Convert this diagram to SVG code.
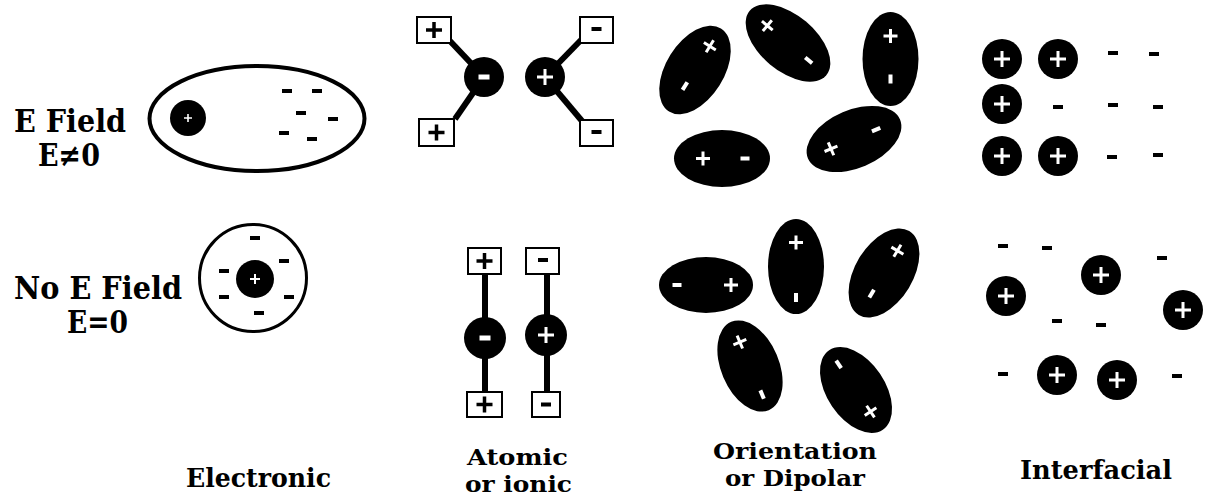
<svg xmlns="http://www.w3.org/2000/svg" xmlns:xlink="http://www.w3.org/1999/xlink" width="1205" height="496" viewBox="0 0 1205 496">
  <style>
    .lbl { font-family: "DejaVu Serif", "Liberation Serif", serif; font-weight: bold; fill: #000; text-anchor: middle; }
    .side { font-size: 31px; }
    .cap { font-size: 26px; }
    .cap2 { font-size: 23px; }
    .shell { fill: none; stroke: #000; }
    .box { fill: #fff; stroke: #000; stroke-width: 2; }
    .bond { stroke: #000; stroke-width: 6; }
  </style>
  <defs>
    <!-- white charge marks on black bodies -->
    <path id="wplus" d="M-7 0H7M0 -7V7" stroke="#fff" stroke-width="3" fill="none"/>
    <path id="wplus-big" d="M-8 0H8M0 -8V8" stroke="#fff" stroke-width="3" fill="none"/>
    <rect id="wminus" x="-4.5" y="-2" width="9" height="4" fill="#fff"/>
    <rect id="wminus-big" x="-5.5" y="-2.5" width="11" height="5" fill="#fff"/>
    <!-- black charge marks on white -->
    <rect id="dash" x="-5" y="-2" width="10" height="4" fill="#000"/>
    <path id="bplus" d="M-8 0H8M0 -8V8" stroke="#000" stroke-width="3.5" fill="none"/>
    <!-- free positive charge -->
    <g id="cation">
      <circle r="20" fill="#000"/>
      <use xlink:href="#wplus-big"/>
    </g>
  </defs>

  <!-- row labels -->
  <g id="label-field">
    <text class="lbl side" x="70" y="132" textLength="112" lengthAdjust="spacingAndGlyphs">E Field</text>
    <text class="lbl side" x="69" y="166" textLength="62" lengthAdjust="spacingAndGlyphs">E≠0</text>
  </g>
  <g id="label-nofield">
    <text class="lbl side" x="98" y="299" textLength="168" lengthAdjust="spacingAndGlyphs">No E Field</text>
    <text class="lbl side" x="97.5" y="333" textLength="61" lengthAdjust="spacingAndGlyphs">E=0</text>
  </g>

  <!-- electronic polarization -->
  <g id="electronic-field">
    <ellipse class="shell" cx="257" cy="118.5" rx="107.5" ry="52.5" stroke-width="4"/>
    <circle cx="188" cy="118" r="18" fill="#000"/>
    <path d="M184 118h8M188 114v8" stroke="#fff" stroke-width="1.6"/>
    <use xlink:href="#dash" x="287" y="91"/>
    <use xlink:href="#dash" x="317" y="91"/>
    <use xlink:href="#dash" x="301" y="113"/>
    <use xlink:href="#dash" x="333" y="119"/>
    <use xlink:href="#dash" x="284" y="133"/>
    <use xlink:href="#dash" x="312" y="139"/>
  </g>
  <g id="electronic-nofield">
    <circle class="shell" cx="253" cy="278" r="53.5" stroke-width="3"/>
    <circle cx="255" cy="279" r="19" fill="#000"/>
    <path d="M250 279h10M255 274v10" stroke="#fff" stroke-width="2"/>
    <use xlink:href="#dash" x="255" y="238"/>
    <use xlink:href="#dash" x="284" y="261"/>
    <use xlink:href="#dash" x="224" y="271"/>
    <use xlink:href="#dash" x="224" y="297"/>
    <use xlink:href="#dash" x="289" y="297"/>
    <use xlink:href="#dash" x="259" y="313"/>
  </g>

  <!-- atomic / ionic polarization -->
  <g id="atomic-field">
    <line class="bond" x1="450" y1="41" x2="484" y2="77"/>
    <line class="bond" x1="484" y1="77" x2="455" y2="119"/>
    <line class="bond" x1="545" y1="77" x2="582" y2="39"/>
    <line class="bond" x1="545" y1="77" x2="582" y2="121"/>
    <rect class="box" x="417" y="17" width="34" height="26"/>
    <use xlink:href="#bplus" x="434" y="30"/>
    <rect class="box" x="419" y="119" width="35" height="27"/>
    <use xlink:href="#bplus" x="436.5" y="132.5"/>
    <rect class="box" x="580" y="17" width="33" height="26"/>
    <use xlink:href="#dash" x="596.5" y="29"/>
    <rect class="box" x="580" y="120" width="33" height="26"/>
    <use xlink:href="#dash" x="596.5" y="132"/>
    <circle cx="484" cy="77" r="20" fill="#000"/>
    <use xlink:href="#wminus-big" x="484" y="77"/>
    <circle cx="545" cy="77" r="20" fill="#000"/>
    <use xlink:href="#wplus-big" x="545" y="77"/>
  </g>
  <g id="atomic-nofield">
    <line class="bond" x1="485" y1="270" x2="485" y2="395" stroke-width="6.5"/>
    <line class="bond" x1="547" y1="270" x2="547" y2="395" stroke-width="6.5"/>
    <rect class="box" x="468" y="248" width="33" height="26"/>
    <use xlink:href="#bplus" x="484.5" y="261"/>
    <rect class="box" x="526" y="248" width="33" height="26"/>
    <use xlink:href="#dash" x="543" y="260"/>
    <rect class="box" x="467" y="392" width="35" height="25"/>
    <use xlink:href="#bplus" x="484.5" y="404.5"/>
    <rect class="box" x="532" y="392" width="28" height="25"/>
    <use xlink:href="#dash" x="546" y="404.5"/>
    <circle cx="485" cy="338" r="21" fill="#000"/>
    <use xlink:href="#wminus-big" x="485" y="338"/>
    <circle cx="546" cy="335" r="21" fill="#000"/>
    <use xlink:href="#wplus-big" x="546" y="335"/>
  </g>

  <!-- orientation / dipolar polarization: each dipole drawn along its own axis -->
  <g id="orientation-field">
    <g transform="translate(695 70) rotate(-58)">
      <ellipse rx="49" ry="29" fill="#000"/>
      <use xlink:href="#wplus" x="28"/>
      <use xlink:href="#wminus" x="-19"/>
    </g>
    <g transform="translate(788 43) rotate(-140)">
      <ellipse rx="50" ry="28" fill="#000"/>
      <use xlink:href="#wplus" x="27"/>
      <use xlink:href="#wminus" x="-27"/>
    </g>
    <g transform="translate(890.5 59) rotate(-90)">
      <ellipse rx="47" ry="28" fill="#000"/>
      <use xlink:href="#wplus" x="23"/>
      <use xlink:href="#wminus" x="-20"/>
    </g>
    <g transform="translate(722 158.5) rotate(180)">
      <ellipse rx="48" ry="28.5" fill="#000"/>
      <use xlink:href="#wplus" x="19"/>
      <use xlink:href="#wminus" x="-23"/>
    </g>
    <g transform="translate(854 139) rotate(157)">
      <ellipse rx="50" ry="29" fill="#000"/>
      <use xlink:href="#wplus" x="25"/>
      <use xlink:href="#wminus" x="-24"/>
    </g>
  </g>
  <g id="orientation-nofield">
    <g transform="translate(706 285)">
      <ellipse rx="47" ry="28" fill="#000"/>
      <use xlink:href="#wplus" x="25"/>
      <use xlink:href="#wminus" x="-29"/>
    </g>
    <g transform="translate(796 266.5) rotate(-90)">
      <ellipse rx="47.5" ry="28" fill="#000"/>
      <use xlink:href="#wplus" x="24"/>
      <use xlink:href="#wminus" x="-31"/>
    </g>
    <g transform="translate(884 273) rotate(-59)">
      <ellipse rx="49" ry="29" fill="#000"/>
      <use xlink:href="#wplus" x="26"/>
      <use xlink:href="#wminus" x="-24"/>
    </g>
    <g transform="translate(750 366) rotate(-113)">
      <ellipse rx="48" ry="29" fill="#000"/>
      <use xlink:href="#wplus" x="26"/>
      <use xlink:href="#wminus" x="-31"/>
    </g>
    <g transform="translate(856 390) rotate(56)">
      <ellipse rx="48" ry="29" fill="#000"/>
      <use xlink:href="#wplus" x="26"/>
      <use xlink:href="#wminus" x="-31"/>
    </g>
  </g>

  <!-- interfacial polarization -->
  <g id="interfacial-field">
    <use xlink:href="#cation" x="1002" y="59"/>
    <use xlink:href="#cation" x="1058" y="59"/>
    <use xlink:href="#cation" x="1002" y="104"/>
    <use xlink:href="#cation" x="1002" y="156"/>
    <use xlink:href="#cation" x="1058" y="156"/>
    <use xlink:href="#dash" x="1113" y="53"/>
    <use xlink:href="#dash" x="1154" y="54"/>
    <use xlink:href="#dash" x="1058" y="107"/>
    <use xlink:href="#dash" x="1113" y="105"/>
    <use xlink:href="#dash" x="1158" y="107"/>
    <use xlink:href="#dash" x="1112" y="157"/>
    <use xlink:href="#dash" x="1158" y="155"/>
  </g>
  <g id="interfacial-nofield">
    <use xlink:href="#cation" x="1006" y="296"/>
    <use xlink:href="#cation" x="1101" y="275"/>
    <use xlink:href="#cation" x="1183" y="310"/>
    <use xlink:href="#cation" x="1057" y="375"/>
    <use xlink:href="#cation" x="1117" y="380"/>
    <use xlink:href="#dash" x="1003" y="246"/>
    <use xlink:href="#dash" x="1047" y="248"/>
    <use xlink:href="#dash" x="1162" y="258"/>
    <use xlink:href="#dash" x="1057" y="321"/>
    <use xlink:href="#dash" x="1101" y="325"/>
    <use xlink:href="#dash" x="1003" y="374"/>
    <use xlink:href="#dash" x="1177" y="376"/>
  </g>

  <!-- column captions -->
  <g id="caption-electronic">
    <text class="lbl cap" x="258.5" y="487" textLength="145" lengthAdjust="spacingAndGlyphs">Electronic</text>
  </g>
  <g id="caption-atomic">
    <text class="lbl cap2" x="517.5" y="465" textLength="101" lengthAdjust="spacingAndGlyphs">Atomic</text>
    <text class="lbl cap2" x="518.5" y="492" textLength="107" lengthAdjust="spacingAndGlyphs">or ionic</text>
  </g>
  <g id="caption-orientation">
    <text class="lbl cap2" x="795" y="459" textLength="164" lengthAdjust="spacingAndGlyphs">Orientation</text>
    <text class="lbl cap2" x="795" y="486" textLength="140" lengthAdjust="spacingAndGlyphs">or Dipolar</text>
  </g>
  <g id="caption-interfacial">
    <text class="lbl cap" x="1096" y="479" textLength="152" lengthAdjust="spacingAndGlyphs">Interfacial</text>
  </g>
</svg>
